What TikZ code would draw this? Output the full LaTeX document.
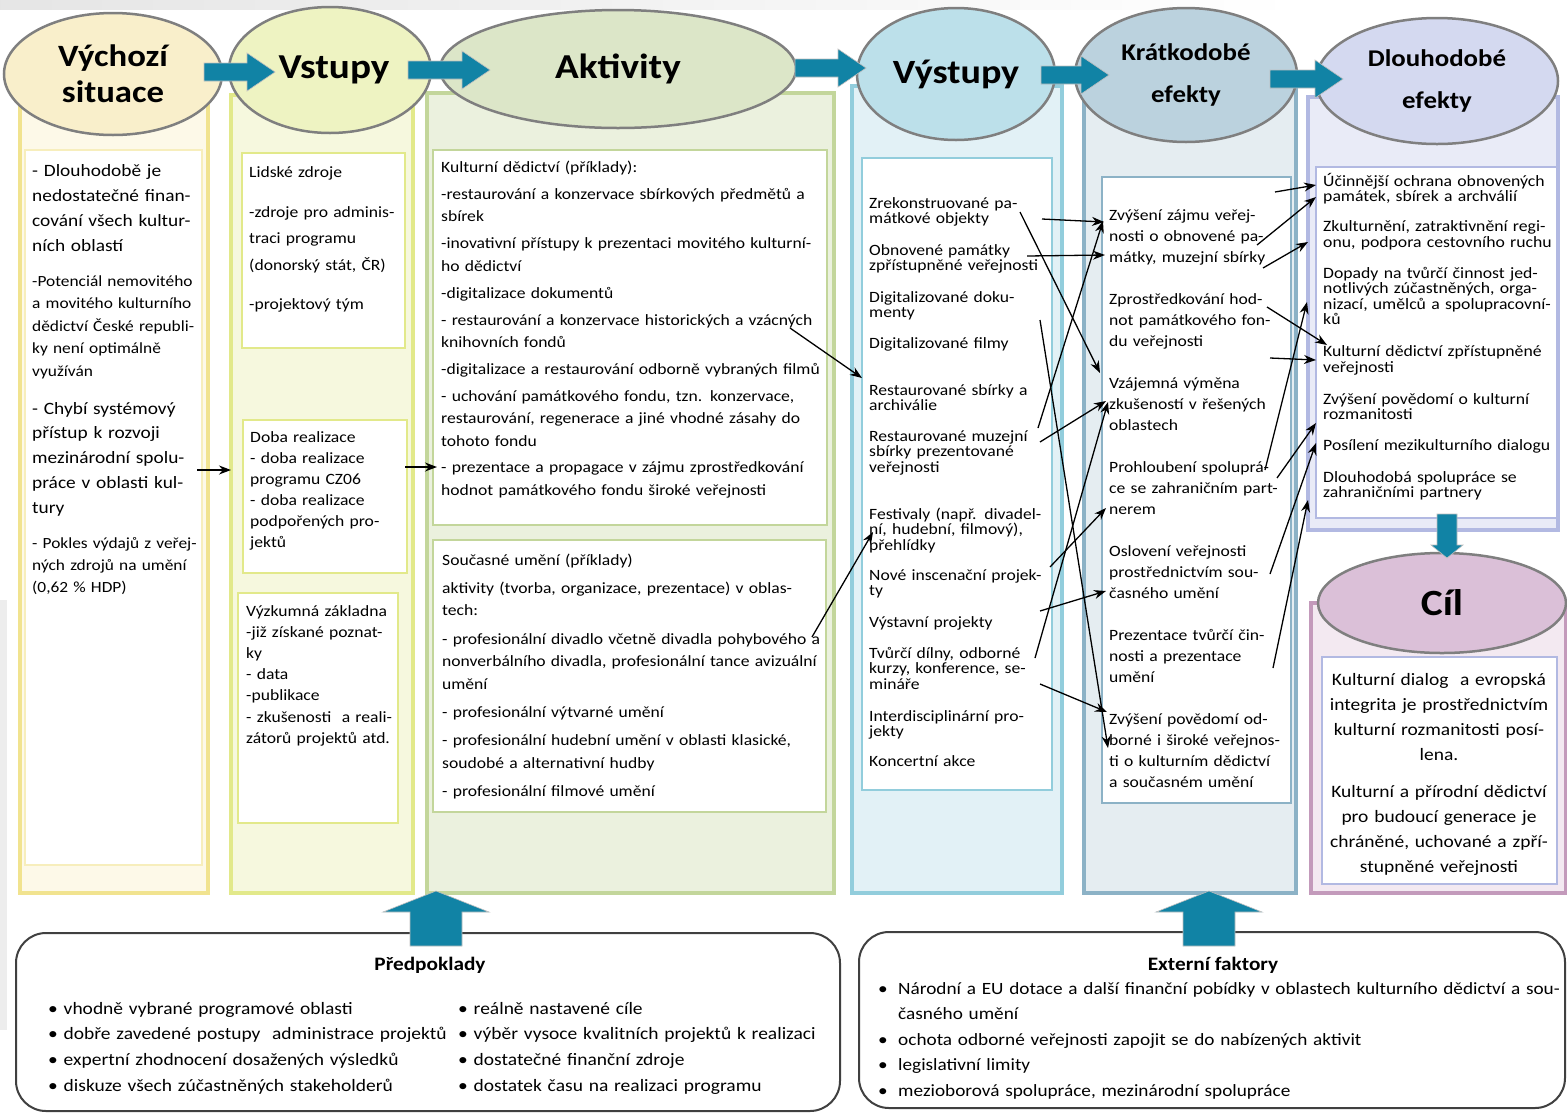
\documentclass[tikz,border=0pt]{standalone}
\usepackage{fontspec}
\setmainfont{Carlito}[FakeStretch=1.12]
\usetikzlibrary{shapes.geometric,arrows.meta}
\lineskiplimit=-100pt

\definecolor{sitfill}{HTML}{FDF9E8}
\definecolor{sitdraw}{HTML}{F1E38F}
\definecolor{sitoval}{HTML}{F9EFCB}
\definecolor{vstfill}{HTML}{F6F8DE}
\definecolor{vstdraw}{HTML}{E2E98A}
\definecolor{vstoval}{HTML}{EEF3C2}
\definecolor{aktfill}{HTML}{EBF1DE}
\definecolor{aktdraw}{HTML}{C3D69B}
\definecolor{aktoval}{HTML}{DCE6C8}
\definecolor{vysfill}{HTML}{E2F1F6}
\definecolor{vysdraw}{HTML}{92CDDC}
\definecolor{vysoval}{HTML}{BCE0EA}
\definecolor{krafill}{HTML}{E5EDF1}
\definecolor{kradraw}{HTML}{8CB2C6}
\definecolor{kraoval}{HTML}{BBD2DE}
\definecolor{dlofill}{HTML}{E9EBF7}
\definecolor{dlodraw}{HTML}{B2B9E2}
\definecolor{dlooval}{HTML}{D4D9F0}
\definecolor{cilfill}{HTML}{F3E9F1}
\definecolor{cildraw}{HTML}{C39ABB}
\definecolor{ciloval}{HTML}{DBC0D8}
\definecolor{ovalgray}{HTML}{7F7F7F}
\definecolor{arrowteal}{HTML}{1183A5}
\definecolor{boxgray}{HTML}{404040}

\begin{document}
\begin{tikzpicture}[x=1pt,y=-1pt,>={Stealth[length=12pt,width=9pt]},
  col/.style={line width=4pt},
  inbox/.style={fill=white,line width=2.5pt},
  oval/.style={ellipse,draw=ovalgray,line width=2.5pt,inner sep=0pt,font=\bfseries},
  txt/.style={anchor=base west,inner sep=0pt,align=left,text width=#1},
  link/.style={->,line width=1.3pt},
  bigarrow/.style={fill=arrowteal,draw=gray!50,line width=0.6pt},
  factbox/.style={draw=boxgray,line width=2pt,rounded corners=30pt,fill=white}]
\useasboundingbox (0,0) rectangle (1567,1112);
\fill[white] (0,0) rectangle (1567,1112);
\shade[left color=black!10,right color=white] (0,0) rectangle (1300,9);
\fill[black!7] (0,600) rectangle (7,1030);

% The columns
\draw[col,draw=sitdraw,fill=sitfill] (20,100) rectangle (208,893);
\draw[col,draw=vstdraw,fill=vstfill] (231,95) rectangle (413,893);
\draw[col,draw=aktdraw,fill=aktfill] (427,93) rectangle (834,893);
\draw[col,draw=vysdraw,fill=vysfill] (852,86) rectangle (1062,893);
\draw[col,draw=kradraw,fill=krafill] (1084,86) rectangle (1296,893);
\draw[col,draw=dlodraw,fill=dlofill] (1308,97) rectangle (1558,530);
\draw[col,draw=cildraw,fill=cilfill] (1311,603) rectangle (1566,893);

% The white boxes
\draw[inbox,draw=sitdraw!60] (25,150) rectangle (202,865);
\draw[inbox,draw=vstdraw] (242,153) rectangle (405,348);
\draw[inbox,draw=vstdraw] (243,420) rectangle (407,573);
\draw[inbox,draw=vstdraw] (238,593) rectangle (398,823);
\draw[inbox,draw=aktdraw] (433,150) rectangle (827,525);
\draw[inbox,draw=aktdraw] (433,540) rectangle (826,812);
\draw[inbox,draw=vysdraw] (862,158) rectangle (1052,790);
\draw[inbox,draw=kradraw] (1102,177) rectangle (1291,803);
\draw[inbox,draw=dlodraw] (1316,167) rectangle (1557,518);
\draw[inbox,draw=dlodraw] (1322,657) rectangle (1557,884);

% The ovals
\node[oval,fill=sitoval,minimum width=218pt,minimum height=122pt,font=\bfseries\fontsize{31}{36}\selectfont,align=center] (o1) at (113,74) {Výchozí\\situace};
\node[oval,fill=vstoval,minimum width=202pt,minimum height=126pt,font=\bfseries\fontsize{35}{40}\selectfont] (o2) at (330,70) {\hspace*{8pt}Vstupy};
\node[oval,fill=aktoval,minimum width=356pt,minimum height=118pt,font=\bfseries\fontsize{35}{40}\selectfont] (o3) at (618,69) {Aktivity};
\node[oval,fill=vysoval,minimum width=198pt,minimum height=132pt,font=\bfseries\fontsize{34}{40}\selectfont] (o4) at (956,74) {Výstupy};
\node[oval,fill=kraoval,minimum width=222pt,minimum height=134pt,font=\bfseries\fontsize{24}{42}\selectfont,align=center] (o5) at (1186,75) {Krátkodobé\\efekty};
\node[oval,fill=dlooval,minimum width=242pt,minimum height=126pt,font=\bfseries\fontsize{24}{42}\selectfont,align=center] (o6) at (1437,81) {Dlouhodobé\\efekty};
\node[oval,fill=ciloval,minimum width=248pt,minimum height=100pt,font=\bfseries\fontsize{37}{40}\selectfont] (o7) at (1442,603) {Cíl};

% The big arrows
\foreach \xa/\xb/\yy in {204/275/72,408/490/70,795/866/68,1041/1109/75,1270/1343/79}
  \draw[bigarrow] (\xa,\yy-9) -- (\xb-28,\yy-9) -- (\xb-28,\yy-19) -- (\xb,\yy)
    -- (\xb-28,\yy+19) -- (\xb-28,\yy+9) -- (\xa,\yy+9) -- cycle;
\draw[bigarrow] (1437,514) -- (1457,514) -- (1457,545) -- (1463,545) -- (1447,558)
  -- (1431,545) -- (1437,545) -- cycle;

% Predpoklady and externi faktory
\draw[factbox] (16,933) rectangle (840,1111);
\draw[factbox] (859,932) rectangle (1565,1108);
\foreach \xc in {436,1209}
  \draw[bigarrow] (\xc-26,946) -- (\xc-26,912) -- (\xc-53,912) -- (\xc,891)
    -- (\xc+53,912) -- (\xc+26,912) -- (\xc+26,946) -- cycle;

% Vychozi situace
\node[txt=172,font=\fontsize{17.3}{25}\selectfont] (sit1) at (32,176)
  {- Dlouhodobě je\\nedostatečné finan-\\cování všech kultur-\\ních oblastí};
\node[txt=172,font=\fontsize{15.5}{22.5}\selectfont] (sit2) at (32,286)
  {-Potenciál nemovitého\\a movitého kulturního\\dědictví České republi-\\ky není optimálně\\využíván};
\node[txt=172,font=\fontsize{17.3}{24.75}\selectfont] (sit3) at (32,414)
  {- Chybí systémový\\přístup k rozvoji\\mezinárodní spolu-\\práce v oblasti kul-\\tury};
\node[txt=172,font=\fontsize{15.5}{22}\selectfont] (sit4) at (32,548)
  {- Pokles výdajů z veřej-\\ných zdrojů na umění\\(0,62 \% HDP)};

% Vstupy
\node[txt=160,font=\fontsize{15.7}{26.5}\selectfont] (lidske) at (249,177)
  {Lidské zdroje\\[13.5pt]-zdroje pro adminis-\\traci programu\\(donorský stát, ČR)\\[12.5pt]-projektový tým};
\node[txt=160,font=\fontsize{15.7}{21}\selectfont] (doba) at (250,442)
  {Doba realizace\\- doba realizace\\programu CZ06\\- doba realizace\\podpořených pro-\\jektů};
\node[txt=160,font=\fontsize{15.7}{21.2}\selectfont] (vyzkum) at (246,616)
  {Výzkumná základna\\-již získané poznat-\\ky\\- data\\-publikace\\- zkušenosti\ \ a reali-\\zátorů projektů atd.};

% Aktivity
\node[txt=390,font=\fontsize{15.7}{22.5}\selectfont] (dedictvi) at (441,172)
  {Kulturní dědictví (příklady):\\[4.5pt]-restaurování a konzervace sbírkových předmětů a\\sbírek\\[4.5pt]-inovativní přístupy k prezentaci movitého kulturní-\\ho dědictví\\[4.5pt]-digitalizace dokumentů\\[4.5pt]- restaurování a konzervace historických a vzácných\\knihovních fondů\\[4.5pt]-digitalizace a restaurování odborně vybraných filmů\\[4pt]- uchování památkového fondu, tzn. konzervace,\\restaurování, regenerace a jiné vhodné zásahy do\\tohoto fondu\\[4pt]- prezentace a propagace v zájmu zprostředkování\\hodnot památkového fondu široké veřejnosti};
\node[txt=390,font=\fontsize{15.7}{22.5}\selectfont] (umeni) at (442,565)
  {Současné umění (příklady)\\[5.5pt]aktivity (tvorba, organizace, prezentace) v oblas-\\tech:\\[6pt]- profesionální divadlo včetně divadla pohybového a\\nonverbálního divadla, profesionální tance avizuální\\umění\\[5.5pt]- profesionální výtvarné umění\\[6pt]- profesionální hudební umění v oblasti klasické,\\soudobé a alternativní hudby\\[5.5pt]- profesionální filmové umění};

% Vystupy
\node[txt=190,font=\fontsize{15.7}{15.5}\selectfont] (vystupy) at (869,208)
  {Zrekonstruované pa-\\mátkové objekty\\[16pt]Obnovené památky\\zpřístupněné veřejnosti\\[16pt]Digitalizované doku-\\menty\\[15pt]Digitalizované filmy\\[31.5pt]Restaurované sbírky a\\archiválie\\[15pt]Restaurované muzejní\\sbírky prezentované\\veřejnosti\\[31.5pt]Festivaly (např. divadel-\\ní, hudební, filmový),\\přehlídky\\[14.5pt]Nové inscenační projek-\\ty\\[16pt]Výstavní projekty\\[15.5pt]Tvůrčí dílny, odborné\\kurzy, konference, se-\\mináře\\[16.5pt]Interdisciplinární pro-\\jekty\\[14pt]Koncertní akce};

% Kratkodobe efekty
\node[txt=185,font=\fontsize{15.7}{21}\selectfont] (kratko) at (1109,220)
  {Zvýšení zájmu veřej-\\nosti o obnovené pa-\\mátky, muzejní sbírky\\[21pt]Zprostředkování hod-\\not památkového fon-\\du veřejnosti\\[21pt]Vzájemná výměna\\zkušeností v řešených\\oblastech\\[21pt]Prohloubení spoluprá-\\ce se zahraničním part-\\nerem\\[21pt]Oslovení veřejnosti\\prostřednictvím sou-\\časného umění\\[21pt]Prezentace tvůrčí čin-\\nosti a prezentace\\umění\\[21pt]Zvýšení povědomí od-\\borné i široké veřejnos-\\ti o kulturním dědictví\\a současném umění};

% Dlouhodobe efekty
\node[txt=240,font=\fontsize{15.8}{15.5}\selectfont] (dlouho) at (1323,186)
  {Účinnější ochrana obnovených\\památek, sbírek a archválií\\[14.5pt]Zkulturnění, zatraktivnění regi-\\onu, podpora cestovního ruchu\\[15.5pt]Dopady na tvůrčí činnost jed-\\notlivých zúčastněných, orga-\\nizací, umělců a spolupracovní-\\ků\\[16.5pt]Kulturní dědictví zpřístupněné\\veřejnosti\\[16.5pt]Zvýšení povědomí o kulturní\\rozmanitosti\\[15.5pt]Posílení mezikulturního dialogu\\[16pt]Dlouhodobá spolupráce se\\zahraničními partnery};

% Cil
\node[anchor=base,inner sep=0pt,align=center,text width=230,font=\fontsize{17.4}{25}\selectfont] (cil) at (1439,685)
  {Kulturní dialog\ \ a evropská\\integrita je prostřednictvím\\kulturní rozmanitosti posí-\\lena.\\[12pt]Kulturní a přírodní dědictví\\pro budoucí generace je\\chráněné, uchované a zpří-\\stupněné veřejnosti};

% Bottom texts
\node[anchor=base,inner sep=0pt,font=\bfseries\fontsize{19}{22}\selectfont] (predtit) at (430,970) {Předpoklady};
\node[txt=400,font=\fontsize{17.4}{25.7}\selectfont] (predl) at (48,1014)
  {• vhodně vybrané programové oblasti\\• dobře zavedené postupy\ \ administrace projektů\\• expertní zhodnocení dosažených výsledků\\• diskuze všech zúčastněných stakeholderů};
\node[txt=380,font=\fontsize{17.4}{25.7}\selectfont] (predr) at (458,1014)
  {• reálně nastavené cíle\\• výběr vysoce kvalitních projektů k realizaci\\• dostatečné finanční zdroje\\• dostatek času na realizaci programu};
\node[anchor=base,inner sep=0pt,font=\bfseries\fontsize{19}{22}\selectfont] (exttit) at (1213,970) {Externí faktory};
\node[txt=690,font=\fontsize{17.2}{25.5}\selectfont] (extitems) at (878,994)
  {\makebox[20pt][l]{•}Národní a EU dotace a další finanční pobídky v oblastech kulturního dědictví a sou-\\\hspace*{20pt}časného umění\\\makebox[20pt][l]{•}ochota odborné veřejnosti zapojit se do nabízených aktivit\\\makebox[20pt][l]{•}legislativní limity\\\makebox[20pt][l]{•}mezioborová spolupráce, mezinárodní spolupráce};

% Ends of the thin arrows
\foreach \n/\xx/\yy in {s1/197/470,e1/231/470, s2/405/467,e2/437/467,
  s3/790/328,e3/862/378, s4/812/637,e4/873/532,
  va/1042/219,ka/1104/222, vb/1038/428,kb/1103/221, vc/1040/442,kc/1106/401,
  vd/1020/212,kd/1100/373, ve/1027/256,ke/1105/255, vf/1040/320,kf/1108/748,
  vg/1050/567,kg/1106/508, vh/1040/611,kh/1106/591, vi/1040/684,ki/1107/712,
  vj/1035/658,kj/1108/402,
  la/1275/192,da/1316/185, lb/1257/245,db/1316/197, lc/1263/268,dc/1308/242,
  ld/1267/307,dd/1327/345, le/1270/358,de/1316/360, lf/1265/470,df/1307/302,
  lg/1277/478,dg/1316/423, lh/1270/574,dh/1316/443, li/1273/668,di/1308/500}
  \coordinate (\n) at (\xx,\yy);

% The thin arrows
\foreach \s/\t in {s1/e1,s2/e2,s3/e3,s4/e4,
  va/ka,vb/kb,vc/kc,vd/kd,ve/ke,vf/kf,vg/kg,vh/kh,vi/ki,vj/kj,
  la/da,lb/db,lc/dc,ld/dd,le/de,lf/df,lg/dg,lh/dh,li/di}
  \draw[link] (\s) -- (\t);

\end{tikzpicture}
\end{document}
